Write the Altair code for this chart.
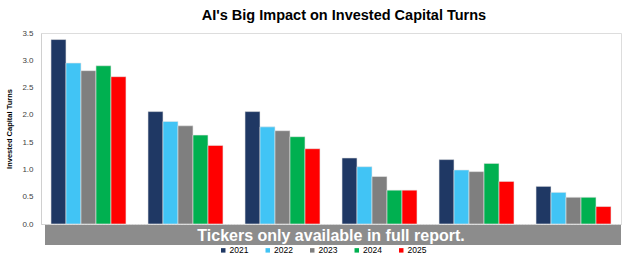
import altair as alt
import pandas as pd

companies = ["Co A", "Co B", "Co C", "Co D", "Co E", "Co F"]
years = ["2021", "2022", "2023", "2024", "2025"]
v2021 = [3.38, 2.06, 2.06, 1.21, 1.18, 0.69]
v2022 = [2.95, 1.88, 1.78, 1.05, 0.99, 0.58]
v2023 = [2.81, 1.80, 1.71, 0.87, 0.96, 0.49]
v2024 = [2.90, 1.63, 1.60, 0.62, 1.11, 0.49]
v2025 = [2.70, 1.44, 1.38, 0.62, 0.78, 0.32]
colors = ["#1F3864", "#41C4F5", "#7F7F7F", "#00B050", "#FF0000"]
title_text = "AI's Big Impact on Invested Capital Turns"
y_title = "Invested Capital Turns"
band_text = "Tickers only available in full report."

series = [v2021, v2022, v2023, v2024, v2025]
rows = []
for yi, yr in enumerate(years):
    for ci, c in enumerate(companies):
        rows.append({"company": c, "year": yr, "value": series[yi][ci]})
df = pd.DataFrame(rows)

FONT = "Liberation Sans"

bars = alt.Chart(df).mark_bar(stroke="#e6e6e6", strokeWidth=0.6).encode(
    x=alt.X("company:N", sort=companies, title=None,
            scale=alt.Scale(paddingInner=0.227, paddingOuter=0.103),
            axis=alt.Axis(labels=False, ticks=False, domainColor="#d0d0d0",
                          domainDash=[2, 1], domainWidth=1)),
    xOffset=alt.XOffset("year:N", sort=years, scale=alt.Scale(paddingInner=0, paddingOuter=0)),
    y=alt.Y("value:Q", title=y_title,
            scale=alt.Scale(domain=[0, 3.5], nice=False),
            axis=alt.Axis(values=[0, 0.5, 1, 1.5, 2, 2.5, 3, 3.5], format=".1f",
                          grid=False, ticks=False, domainColor="#d0d0d0",
                          labelFontSize=8, labelColor="#404040", labelPadding=8,
                          labelFont=FONT, titleFont=FONT, titleFontSize=7.5,
                          titleFontWeight="bold", titleColor="#000000",
                          titlePadding=8)),
    color=alt.Color("year:N", sort=years,
                    scale=alt.Scale(domain=years, range=colors),
                    legend=alt.Legend(title=None, orient="none", direction="horizontal",
                                      legendX=178, legendY=213,
                                      symbolType="square", symbolSize=20,
                                      symbolStrokeWidth=0, labelFontSize=8.5,
                                      labelFont=FONT, labelColor="#000000",
                                      labelOffset=2, columnPadding=14.5)),
)

band_df = pd.DataFrame({"label": [band_text]})
band = alt.Chart(band_df).mark_rect(color="#8C8C8C").encode(
    x=alt.value(4), x2=alt.value(580), y=alt.value(192), y2=alt.value(212)
)
band_label = alt.Chart(band_df).mark_text(
    color="white", fontSize=16, fontWeight="bold", font=FONT, baseline="middle", align="center"
).encode(x=alt.value(290), y=alt.value(202.5), text="label:N")

chart = alt.layer(bars, band, band_label).properties(
    width=580, height=191,
    title=alt.TitleParams(title_text, fontSize=14.5, fontWeight="bold", font=FONT,
                          color="#000000", anchor="middle", offset=6, dx=13),
    padding={"left": 41, "top": 33, "right": 9, "bottom": 41},
    autosize=alt.AutoSizeParams(type="none"),
).configure_view(stroke=None).configure(background="white")

chart.save("out.html", embed_options={"renderer": "svg", "actions": False})
